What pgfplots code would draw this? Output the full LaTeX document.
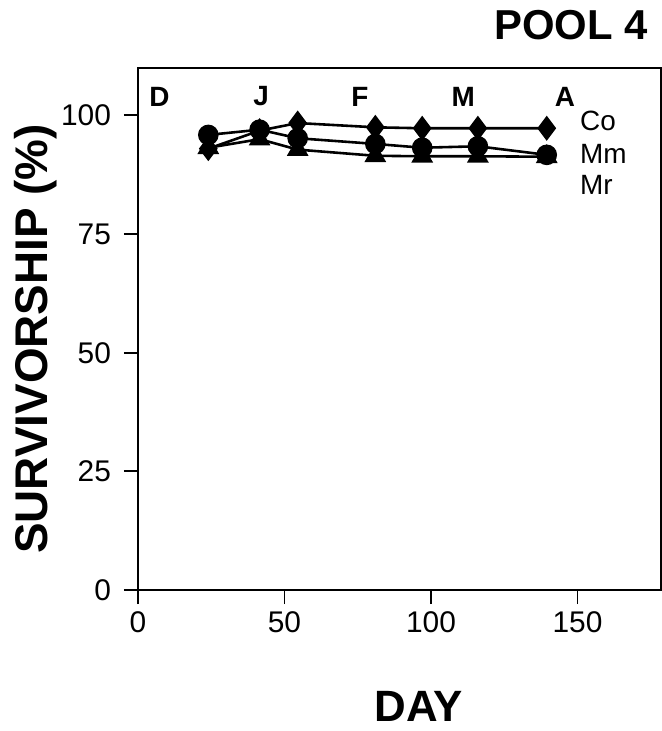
\documentclass[border=0pt]{standalone}
\usepackage{fontspec}
\setmainfont{Liberation Sans}
\usepackage{pgfplots}
\pgfplotsset{compat=1.18}

\begin{document}
\begin{tikzpicture}
\begin{axis}[
    at={(0,0)}, anchor=south west,
    scale only axis,
    width=261.5bp, height=261bp,
    xmin=0, xmax=178.5,
    ymin=0, ymax=110,
    xtick={0,50,100,150},
    ytick={0,25,50,75,100},
    xtick pos=bottom, ytick pos=left,
    tick align=outside,
    major tick length=7bp,
    axis line style={line width=1pt},
    tick style={line width=1pt, black},
    /pgf/number format/assume math mode=true,
    tick label style={font=\fontsize{15}{17}\selectfont},
    xticklabel style={yshift=-0.5bp},
    yticklabel style={xshift=-3bp},
    xlabel={\textbf{DAY}},
    xlabel style={font=\fontsize{22}{24}\selectfont, at={(axis description cs:0.537,-0.223)}, anchor=center},
    ylabel={\textbf{SURVIVORSHIP (\%)}},
    ylabel style={font=\fontsize{23}{25}\selectfont, at={(axis description cs:-0.196,0.481)}, anchor=center},
    title={\textbf{POOL 4}},
    title style={font=\fontsize{21}{23}\selectfont, at={(axis description cs:0.988,1.059)}, anchor=east, yshift=0pt},
    every axis plot/.append style={line width=1.3pt, black},
    clip=false,
]
% Co
\addplot[mark=diamond*, mark size=5.2bp, mark options={fill=black}] coordinates {
(24,93) (41.5,96.8) (54.5,98.4) (81,97.5) (97,97.3) (116,97.3) (139.5,97.3)};
% Mr
\addplot[mark=triangle*, mark size=5bp, mark options={fill=black}] coordinates {
(24,93.2) (41.5,95) (54.5,92.8) (81,91.5) (97,91.4) (116,91.4) (139.5,91.3)};
% Mm
\addplot[mark=*, mark size=4.5bp, mark options={fill=black}] coordinates {
(24,95.9) (41.5,97) (54.5,95.2) (81,94) (97,93.2) (116,93.5) (139.5,91.7)};

\node[font=\fontsize{14}{15}\selectfont\bfseries] at (axis cs:7.3,104) {D};
\node[font=\fontsize{14}{15}\selectfont\bfseries] at (axis cs:42,104) {J};
\node[font=\fontsize{14}{15}\selectfont\bfseries] at (axis cs:75.7,104) {F};
\node[font=\fontsize{14}{15}\selectfont\bfseries] at (axis cs:111,104) {M};
\node[font=\fontsize{14}{15}\selectfont\bfseries] at (axis cs:145.7,104) {A};

\node[font=\fontsize{14}{15}\selectfont, anchor=west, inner sep=0pt] at (axis cs:150.8,98.8) {Co};
\node[font=\fontsize{14}{15}\selectfont, anchor=west, inner sep=0pt] at (axis cs:150.8,91.9) {Mm};
\node[font=\fontsize{14}{15}\selectfont, anchor=west, inner sep=0pt] at (axis cs:150.8,85.3) {Mr};
\end{axis}
\pgfresetboundingbox
\useasboundingbox (-69bp,-70.5bp) rectangle (262bp,295bp);
\end{tikzpicture}
\end{document}
